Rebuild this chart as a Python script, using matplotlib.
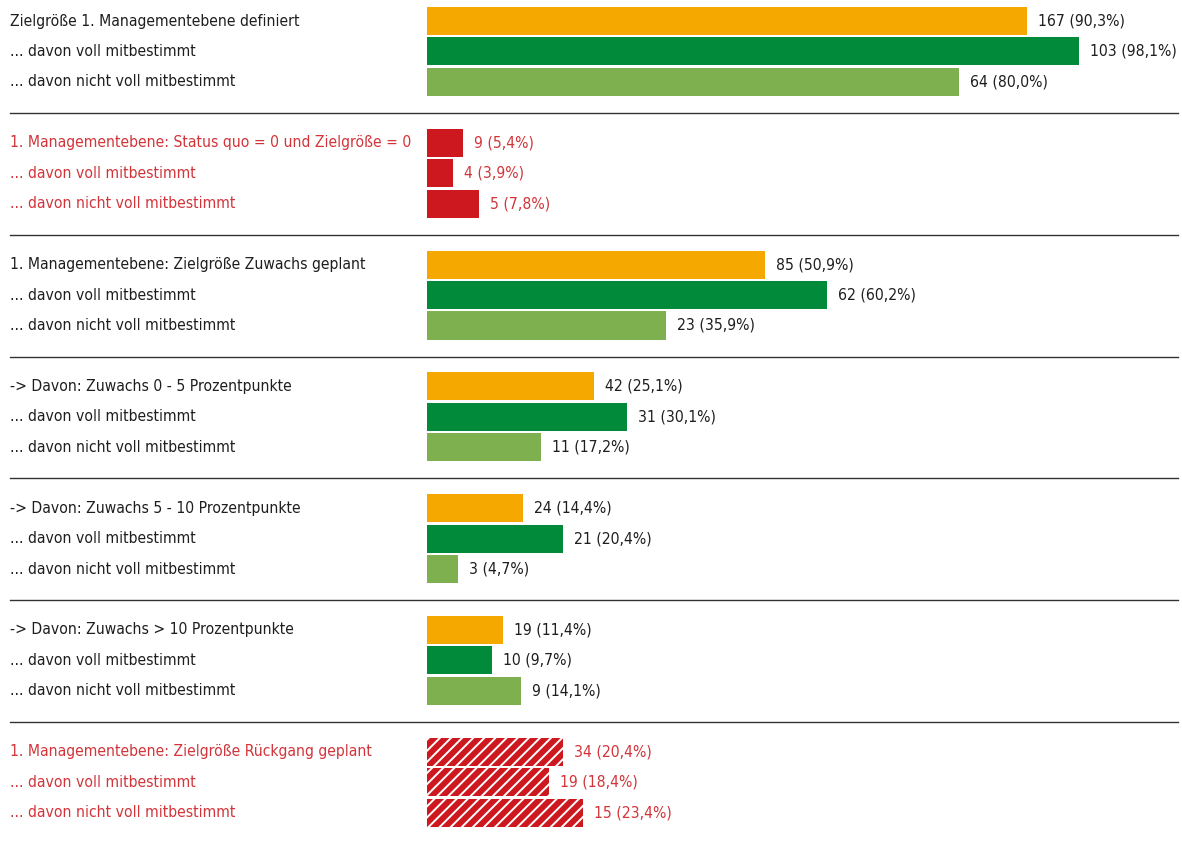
import matplotlib
matplotlib.use("Agg")
import matplotlib.pyplot as plt
from matplotlib import font_manager
from matplotlib.textpath import TextPath
from matplotlib.font_manager import FontProperties

plt.rcParams["hatch.linewidth"] = 1.4

# one entry per group of three rows
group_titles = [
    "Zielgröße 1. Managementebene definiert",
    "1. Managementebene: Status quo = 0 und Zielgröße = 0",
    "1. Managementebene: Zielgröße Zuwachs geplant",
    "-> Davon: Zuwachs 0 - 5 Prozentpunkte",
    "-> Davon: Zuwachs 5 - 10 Prozentpunkte",
    "-> Davon: Zuwachs > 10 Prozentpunkte",
    "1. Managementebene: Zielgröße Rückgang geplant",
]
sub_labels = ["... davon voll mitbestimmt", "... davon nicht voll mitbestimmt"]
counts = [
    [167, 103, 64],
    [9, 4, 5],
    [85, 62, 23],
    [42, 31, 11],
    [24, 21, 3],
    [19, 10, 9],
    [34, 19, 15],
]
shares = [
    [90.3, 98.1, 80.0],
    [5.4, 3.9, 7.8],
    [50.9, 60.2, 35.9],
    [25.1, 30.1, 17.2],
    [14.4, 20.4, 4.7],
    [11.4, 9.7, 14.1],
    [20.4, 18.4, 23.4],
]
group_kind = ["normal", "red", "normal", "normal", "normal", "normal", "hatched"]

ORANGE = "#f5a800"
DKGREEN = "#008a3a"
LTGREEN = "#7eb050"
RED = "#cc181e"
RED_TXT = "#d2343a"
TXT = "#1e1e1e"


def pick_font():
    # prefer a condensed face, the original uses a narrow sans
    for fam, stretch in [("DejaVu Sans", "condensed"),
                         ("Liberation Sans Narrow", "normal"),
                         ("Roboto", "normal")]:
        fp = FontProperties(family=fam, stretch=stretch)
        try:
            path = font_manager.findfont(fp, fallback_to_default=False)
        except ValueError:
            continue
        if stretch == "condensed" and "Condensed" not in path:
            continue
        return fp
    return FontProperties(family="DejaVu Sans")


base_fp = pick_font()
# size the font so the first title is about as wide as in the original
tp = TextPath((0, 0), group_titles[0], size=10, prop=base_fp)
w10 = tp.get_extents().width
fsize = 10 * 288 / (w10 * 100 / 72)
fp = base_fp.copy()
fp.set_size(fsize)

fig = plt.figure(figsize=(11.82, 8.41), dpi=100)
ax = fig.add_axes([0, 0, 1, 1])
ax.set_xlim(-64.26, 113.6)
ax.set_ylim(26.93, -0.69)
ax.axis("off")

ytr = ax.get_yaxis_transform()
for g, title in enumerate(group_titles):
    kind = group_kind[g]
    txt_col = TXT if kind == "normal" else RED_TXT
    row_labels = [title] + sub_labels
    for r in range(3):
        y = 4 * g + r
        val = shares[g][r]
        if kind == "normal":
            col = [ORANGE, DKGREEN, LTGREEN][r]
            ax.barh(y, val, height=0.92, color=col, linewidth=0)
        elif kind == "red":
            ax.barh(y, val, height=0.92, color=RED, linewidth=0)
        else:
            ax.barh(y, val, height=0.92, color=RED, edgecolor="white",
                    linewidth=0, hatch="///")
        ax.text(0.0085, y, row_labels[r], transform=ytr, ha="left",
                va="center", fontproperties=fp, color=txt_col)
        lbl = f"{counts[g][r]} ({val:.1f}%)".replace(".", ",")
        ax.annotate(lbl, (val, y), xytext=(8, 0), textcoords="offset points",
                    ha="left", va="center", fontproperties=fp, color=txt_col)
    if g < len(group_titles) - 1:
        ax.axhline(4 * g + 3.02, xmin=0.0085, xmax=0.9966, color="#333333",
                   linewidth=1.0)

fig.savefig("out.png", dpi=100)
